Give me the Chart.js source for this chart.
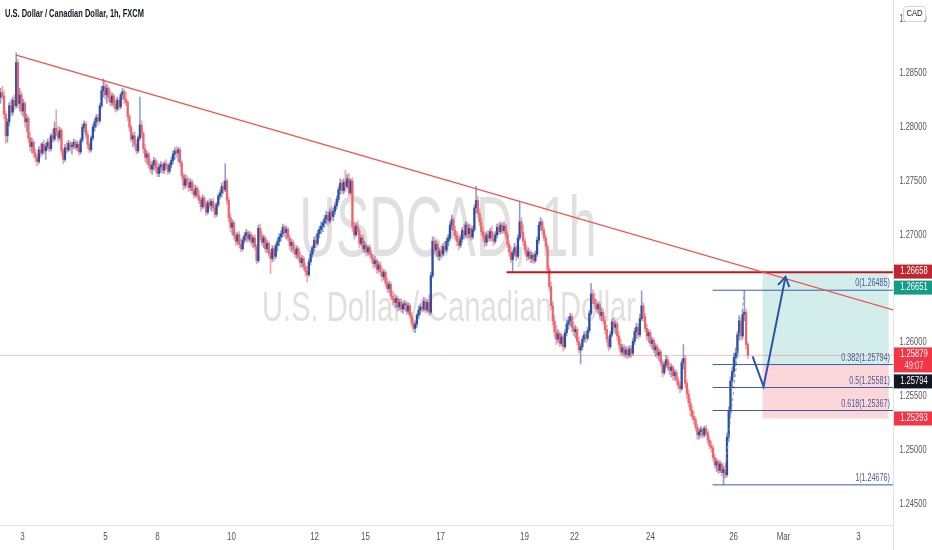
<!DOCTYPE html>
<html>
<head>
<meta charset="utf-8">
<script src="https://cdn.jsdelivr.net/npm/chart.js@4.4.0/dist/chart.umd.min.js"></script>
<style>
  html, body { margin: 0; padding: 0; background: #fff; }
  #wrap { width: 932px; height: 550px; }
</style>
</head>
<body>
<div id="wrap"><canvas id="chart" width="932" height="550"></canvas></div>
<script>
// hourly candles [open, high, low, close]
const candles = [
  [1.2828,1.2836,1.2822,1.2832],[1.2832,1.2838,1.2826,1.2829],[1.2829,1.2834,1.2808,1.2812],[1.2812,1.2815,1.2785,1.2792],[1.2792,1.2808,1.2786,1.2805],
  [1.2805,1.2823,1.2801,1.2820],[1.2820,1.2826,1.2810,1.2814],[1.2814,1.2828,1.2811,1.2825],[1.2825,1.2830,1.2816,1.2820],[1.2820,1.2869,1.2818,1.2860],
  [1.2860,1.2863,1.2818,1.2822],[1.2822,1.2836,1.2815,1.2830],[1.2830,1.2833,1.2812,1.2815],[1.2815,1.2826,1.2810,1.2822],[1.2822,1.2824,1.2800,1.2805],
  [1.2805,1.2812,1.2796,1.2808],[1.2808,1.2810,1.2786,1.2790],[1.2790,1.2795,1.2778,1.2782],[1.2782,1.2790,1.2776,1.2786],[1.2786,1.2788,1.2772,1.2776],
  [1.2776,1.2780,1.2768,1.2772],[1.2772,1.2774,1.2764,1.2768],[1.2768,1.2782,1.2766,1.2779],[1.2779,1.2785,1.2772,1.2776],[1.2776,1.2786,1.2774,1.2784],
  [1.2784,1.2788,1.2775,1.2778],[1.2778,1.2785,1.2770,1.2782],[1.2782,1.2789,1.2779,1.2786],[1.2786,1.2790,1.2777,1.2780],[1.2780,1.2794,1.2778,1.2792],
  [1.2792,1.2798,1.2786,1.2789],[1.2789,1.2805,1.2787,1.2799],[1.2799,1.2816,1.2792,1.2795],[1.2795,1.2801,1.2786,1.2790],[1.2790,1.2800,1.2788,1.2797],
  [1.2797,1.2799,1.2774,1.2778],[1.2778,1.2780,1.2766,1.2770],[1.2770,1.2784,1.2768,1.2781],[1.2781,1.2786,1.2776,1.2779],[1.2779,1.2788,1.2777,1.2785],
  [1.2785,1.2787,1.2778,1.2782],[1.2782,1.2786,1.2775,1.2783],[1.2783,1.2789,1.2780,1.2786],[1.2786,1.2788,1.2779,1.2781],[1.2781,1.2787,1.2778,1.2784],
  [1.2784,1.2786,1.2774,1.2777],[1.2777,1.2790,1.2775,1.2788],[1.2788,1.2803,1.2786,1.2800],[1.2800,1.2806,1.2796,1.2803],[1.2803,1.2805,1.2790,1.2793],
  [1.2793,1.2796,1.2780,1.2784],[1.2784,1.2786,1.2776,1.2779],[1.2779,1.2792,1.2777,1.2790],[1.2790,1.2803,1.2788,1.2800],[1.2800,1.2808,1.2796,1.2805],
  [1.2805,1.2812,1.2800,1.2809],[1.2809,1.2812,1.2802,1.2806],[1.2806,1.2822,1.2804,1.2820],[1.2820,1.2838,1.2818,1.2834],[1.2834,1.2845,1.2828,1.2838],
  [1.2838,1.2843,1.2826,1.2830],[1.2830,1.2840,1.2822,1.2836],[1.2836,1.2838,1.2824,1.2828],[1.2828,1.2834,1.2820,1.2823],[1.2823,1.2832,1.2820,1.2829],
  [1.2829,1.2831,1.2818,1.2821],[1.2821,1.2826,1.2814,1.2817],[1.2817,1.2828,1.2815,1.2825],[1.2825,1.2827,1.2816,1.2819],[1.2819,1.2832,1.2817,1.2830],
  [1.2830,1.2836,1.2826,1.2833],[1.2833,1.2835,1.2822,1.2826],[1.2826,1.2833,1.2820,1.2823],[1.2823,1.2825,1.2806,1.2810],[1.2810,1.2812,1.2796,1.2800],
  [1.2800,1.2802,1.2786,1.2789],[1.2789,1.2795,1.2782,1.2792],[1.2792,1.2796,1.2780,1.2784],[1.2784,1.2788,1.2775,1.2778],[1.2778,1.2792,1.2776,1.2790],
  [1.2790,1.2828,1.2788,1.2802],[1.2802,1.2806,1.2790,1.2794],[1.2794,1.2796,1.2776,1.2780],[1.2780,1.2784,1.2768,1.2772],[1.2772,1.2778,1.2766,1.2775],
  [1.2775,1.2777,1.2762,1.2765],[1.2765,1.2770,1.2758,1.2761],[1.2761,1.2768,1.2756,1.2765],[1.2765,1.2772,1.2760,1.2769],[1.2769,1.2771,1.2758,1.2762],
  [1.2762,1.2768,1.2754,1.2757],[1.2757,1.2766,1.2754,1.2763],[1.2763,1.2768,1.2758,1.2765],[1.2765,1.2767,1.2757,1.2760],[1.2760,1.2768,1.2757,1.2766],
  [1.2766,1.2770,1.2761,1.2764],[1.2764,1.2766,1.2756,1.2759],[1.2759,1.2767,1.2757,1.2765],[1.2765,1.2772,1.2762,1.2769],[1.2769,1.2778,1.2766,1.2775],
  [1.2775,1.2781,1.2770,1.2778],[1.2778,1.2782,1.2772,1.2776],[1.2776,1.2781,1.2768,1.2779],[1.2779,1.2781,1.2764,1.2767],[1.2767,1.2769,1.2752,1.2755],
  [1.2755,1.2757,1.2742,1.2746],[1.2746,1.2756,1.2743,1.2752],[1.2752,1.2755,1.2744,1.2748],[1.2748,1.2753,1.2740,1.2744],[1.2744,1.2752,1.2741,1.2749],
  [1.2749,1.2751,1.2738,1.2741],[1.2741,1.2747,1.2734,1.2737],[1.2737,1.2746,1.2735,1.2743],[1.2743,1.2745,1.2733,1.2736],[1.2736,1.2741,1.2729,1.2732],
  [1.2732,1.2735,1.2722,1.2726],[1.2726,1.2737,1.2724,1.2734],[1.2734,1.2736,1.2725,1.2728],[1.2728,1.2731,1.2718,1.2721],[1.2721,1.2732,1.2719,1.2730],
  [1.2730,1.2734,1.2724,1.2727],[1.2727,1.2733,1.2722,1.2731],[1.2731,1.2734,1.2722,1.2725],[1.2725,1.2729,1.2716,1.2719],[1.2719,1.2730,1.2717,1.2728],
  [1.2728,1.2738,1.2726,1.2736],[1.2736,1.2742,1.2733,1.2739],[1.2739,1.2748,1.2735,1.2745],[1.2745,1.2750,1.2738,1.2742],[1.2742,1.2766,1.2740,1.2750],
  [1.2750,1.2752,1.2728,1.2732],[1.2732,1.2735,1.2712,1.2716],[1.2716,1.2720,1.2703,1.2707],[1.2707,1.2714,1.2700,1.2711],[1.2711,1.2713,1.2696,1.2699],
  [1.2699,1.2703,1.2690,1.2694],[1.2694,1.2702,1.2691,1.2700],[1.2700,1.2703,1.2688,1.2691],[1.2691,1.2696,1.2684,1.2687],[1.2687,1.2698,1.2685,1.2695],
  [1.2695,1.2702,1.2692,1.2699],[1.2699,1.2705,1.2694,1.2702],[1.2702,1.2704,1.2693,1.2696],[1.2696,1.2703,1.2694,1.2700],[1.2700,1.2702,1.2690,1.2693],
  [1.2693,1.2699,1.2688,1.2697],[1.2697,1.2700,1.2686,1.2689],[1.2689,1.2691,1.2673,1.2676],[1.2676,1.2709,1.2674,1.2706],[1.2706,1.2710,1.2695,1.2699],
  [1.2699,1.2703,1.2690,1.2693],[1.2693,1.2700,1.2688,1.2697],[1.2697,1.2699,1.2684,1.2687],[1.2687,1.2695,1.2683,1.2692],[1.2692,1.2694,1.2680,1.2683],
  [1.2683,1.2686,1.2664,1.2678],[1.2678,1.2690,1.2675,1.2687],[1.2687,1.2689,1.2676,1.2680],[1.2680,1.2692,1.2678,1.2690],[1.2690,1.2697,1.2685,1.2694],
  [1.2694,1.2701,1.2690,1.2698],[1.2698,1.2704,1.2694,1.2701],[1.2701,1.2710,1.2698,1.2707],[1.2707,1.2709,1.2698,1.2702],[1.2702,1.2708,1.2696,1.2705],
  [1.2705,1.2707,1.2694,1.2697],[1.2697,1.2700,1.2686,1.2690],[1.2690,1.2696,1.2684,1.2693],[1.2693,1.2695,1.2683,1.2686],[1.2686,1.2691,1.2679,1.2682],
  [1.2682,1.2690,1.2678,1.2687],[1.2687,1.2689,1.2676,1.2679],[1.2679,1.2684,1.2670,1.2674],[1.2674,1.2681,1.2670,1.2678],[1.2678,1.2680,1.2667,1.2670],
  [1.2670,1.2674,1.2662,1.2666],[1.2666,1.2671,1.2656,1.2663],[1.2663,1.2678,1.2661,1.2675],[1.2675,1.2685,1.2672,1.2682],[1.2682,1.2690,1.2679,1.2688],
  [1.2688,1.2698,1.2685,1.2695],[1.2695,1.2700,1.2688,1.2692],[1.2692,1.2704,1.2690,1.2701],[1.2701,1.2708,1.2697,1.2705],[1.2705,1.2712,1.2701,1.2708],
  [1.2708,1.2713,1.2703,1.2711],[1.2711,1.2718,1.2707,1.2715],[1.2715,1.2722,1.2710,1.2718],[1.2718,1.2721,1.2709,1.2713],[1.2713,1.2724,1.2711,1.2721],
  [1.2721,1.2726,1.2714,1.2717],[1.2717,1.2725,1.2713,1.2722],[1.2722,1.2730,1.2719,1.2727],[1.2727,1.2736,1.2724,1.2733],[1.2733,1.2745,1.2730,1.2742],
  [1.2742,1.2752,1.2738,1.2748],[1.2748,1.2751,1.2738,1.2741],[1.2741,1.2752,1.2738,1.2749],[1.2749,1.2760,1.2740,1.2745],[1.2745,1.2756,1.2743,1.2752],
  [1.2752,1.2757,1.2736,1.2739],[1.2739,1.2752,1.2737,1.2750],[1.2750,1.2753,1.2703,1.2708],[1.2708,1.2712,1.2696,1.2700],[1.2700,1.2711,1.2698,1.2708],
  [1.2708,1.2713,1.2700,1.2703],[1.2703,1.2706,1.2688,1.2692],[1.2692,1.2700,1.2690,1.2697],[1.2697,1.2700,1.2684,1.2687],[1.2687,1.2694,1.2683,1.2690],
  [1.2690,1.2692,1.2680,1.2684],[1.2684,1.2690,1.2681,1.2688],[1.2688,1.2691,1.2679,1.2682],[1.2682,1.2685,1.2674,1.2678],[1.2678,1.2681,1.2669,1.2673],
  [1.2673,1.2680,1.2670,1.2676],[1.2676,1.2678,1.2664,1.2668],[1.2668,1.2675,1.2665,1.2672],[1.2672,1.2675,1.2662,1.2666],[1.2666,1.2670,1.2657,1.2661],
  [1.2661,1.2668,1.2658,1.2665],[1.2665,1.2667,1.2652,1.2655],[1.2655,1.2660,1.2647,1.2650],[1.2650,1.2657,1.2646,1.2654],[1.2654,1.2656,1.2640,1.2643],
  [1.2643,1.2648,1.2635,1.2640],[1.2640,1.2646,1.2633,1.2637],[1.2637,1.2644,1.2632,1.2641],[1.2641,1.2643,1.2629,1.2633],[1.2633,1.2640,1.2630,1.2637],
  [1.2637,1.2640,1.2628,1.2631],[1.2631,1.2638,1.2627,1.2635],[1.2635,1.2639,1.2630,1.2636],[1.2636,1.2638,1.2626,1.2629],[1.2629,1.2637,1.2626,1.2634],
  [1.2634,1.2636,1.2622,1.2625],[1.2625,1.2628,1.2615,1.2618],[1.2618,1.2622,1.2610,1.2613],[1.2613,1.2620,1.2609,1.2617],[1.2617,1.2627,1.2614,1.2625],
  [1.2625,1.2634,1.2622,1.2630],[1.2630,1.2636,1.2626,1.2633],[1.2633,1.2640,1.2628,1.2631],[1.2631,1.2642,1.2629,1.2638],[1.2638,1.2641,1.2627,1.2630],
  [1.2630,1.2640,1.2628,1.2637],[1.2637,1.2644,1.2625,1.2628],[1.2628,1.2665,1.2626,1.2662],[1.2662,1.2698,1.2660,1.2694],[1.2694,1.2698,1.2682,1.2686],
  [1.2686,1.2695,1.2680,1.2691],[1.2691,1.2693,1.2677,1.2680],[1.2680,1.2688,1.2676,1.2685],[1.2685,1.2690,1.2678,1.2682],[1.2682,1.2692,1.2680,1.2689],
  [1.2689,1.2694,1.2684,1.2686],[1.2686,1.2697,1.2684,1.2694],[1.2694,1.2700,1.2690,1.2697],[1.2697,1.2712,1.2695,1.2709],[1.2709,1.2718,1.2705,1.2714],
  [1.2714,1.2716,1.2700,1.2704],[1.2704,1.2708,1.2695,1.2699],[1.2699,1.2703,1.2690,1.2694],[1.2694,1.2698,1.2686,1.2690],[1.2690,1.2699,1.2688,1.2696],
  [1.2696,1.2707,1.2693,1.2704],[1.2704,1.2710,1.2696,1.2700],[1.2700,1.2712,1.2698,1.2709],[1.2709,1.2711,1.2697,1.2701],[1.2701,1.2710,1.2697,1.2706],
  [1.2706,1.2709,1.2695,1.2698],[1.2698,1.2708,1.2696,1.2705],[1.2705,1.2728,1.2703,1.2725],[1.2725,1.2745,1.2720,1.2732],[1.2732,1.2736,1.2716,1.2720],
  [1.2720,1.2724,1.2708,1.2712],[1.2712,1.2716,1.2700,1.2703],[1.2703,1.2707,1.2694,1.2698],[1.2698,1.2702,1.2689,1.2693],[1.2693,1.2703,1.2690,1.2700],
  [1.2700,1.2704,1.2694,1.2697],[1.2697,1.2706,1.2694,1.2703],[1.2703,1.2708,1.2694,1.2697],[1.2697,1.2702,1.2690,1.2694],[1.2694,1.2703,1.2692,1.2700],
  [1.2700,1.2710,1.2697,1.2707],[1.2707,1.2711,1.2700,1.2703],[1.2703,1.2712,1.2701,1.2709],[1.2709,1.2711,1.2701,1.2704],[1.2704,1.2712,1.2702,1.2708],
  [1.2708,1.2710,1.2697,1.2700],[1.2700,1.2703,1.2688,1.2691],[1.2691,1.2694,1.2680,1.2684],[1.2684,1.2689,1.2674,1.2677],[1.2677,1.2686,1.2665,1.2683],
  [1.2683,1.2692,1.2680,1.2688],[1.2688,1.2690,1.2676,1.2680],[1.2680,1.2700,1.2678,1.2697],[1.2697,1.2731,1.2695,1.2712],[1.2712,1.2716,1.2698,1.2702],
  [1.2702,1.2709,1.2690,1.2694],[1.2694,1.2697,1.2682,1.2686],[1.2686,1.2690,1.2676,1.2680],[1.2680,1.2688,1.2677,1.2684],[1.2684,1.2686,1.2674,1.2678],
  [1.2678,1.2684,1.2674,1.2681],[1.2681,1.2683,1.2673,1.2676],[1.2676,1.2685,1.2674,1.2682],[1.2682,1.2698,1.2680,1.2695],[1.2695,1.2712,1.2692,1.2709],
  [1.2709,1.2716,1.2704,1.2712],[1.2712,1.2714,1.2700,1.2704],[1.2704,1.2707,1.2694,1.2697],[1.2697,1.2700,1.2686,1.2689],[1.2689,1.2692,1.2664,1.2668],
  [1.2668,1.2671,1.2648,1.2652],[1.2652,1.2656,1.2630,1.2634],[1.2634,1.2638,1.2616,1.2620],[1.2620,1.2625,1.2605,1.2610],[1.2610,1.2616,1.2598,1.2603],
  [1.2603,1.2612,1.2600,1.2608],[1.2608,1.2610,1.2596,1.2599],[1.2599,1.2608,1.2597,1.2605],[1.2605,1.2607,1.2592,1.2596],[1.2596,1.2612,1.2594,1.2609],
  [1.2609,1.2620,1.2606,1.2617],[1.2617,1.2624,1.2612,1.2620],[1.2620,1.2627,1.2615,1.2624],[1.2624,1.2626,1.2610,1.2614],[1.2614,1.2619,1.2606,1.2610],
  [1.2610,1.2616,1.2604,1.2612],[1.2612,1.2614,1.2598,1.2601],[1.2601,1.2605,1.2590,1.2593],[1.2593,1.2599,1.2580,1.2596],[1.2596,1.2606,1.2593,1.2603],
  [1.2603,1.2610,1.2600,1.2607],[1.2607,1.2610,1.2600,1.2604],[1.2604,1.2614,1.2602,1.2611],[1.2611,1.2630,1.2609,1.2627],[1.2627,1.2655,1.2625,1.2645],
  [1.2645,1.2649,1.2636,1.2640],[1.2640,1.2646,1.2632,1.2636],[1.2636,1.2640,1.2628,1.2631],[1.2631,1.2638,1.2627,1.2635],[1.2635,1.2637,1.2622,1.2625],
  [1.2625,1.2632,1.2620,1.2628],[1.2628,1.2631,1.2617,1.2620],[1.2620,1.2624,1.2608,1.2612],[1.2612,1.2616,1.2600,1.2603],[1.2603,1.2606,1.2592,1.2596],
  [1.2596,1.2610,1.2594,1.2607],[1.2607,1.2622,1.2605,1.2619],[1.2619,1.2623,1.2610,1.2614],[1.2614,1.2620,1.2608,1.2617],[1.2617,1.2619,1.2602,1.2606],
  [1.2606,1.2610,1.2594,1.2598],[1.2598,1.2603,1.2588,1.2591],[1.2591,1.2598,1.2588,1.2595],[1.2595,1.2598,1.2586,1.2589],[1.2589,1.2596,1.2586,1.2593],
  [1.2593,1.2596,1.2585,1.2588],[1.2588,1.2597,1.2586,1.2594],[1.2594,1.2597,1.2586,1.2590],[1.2590,1.2604,1.2588,1.2601],[1.2601,1.2613,1.2598,1.2610],
  [1.2610,1.2618,1.2604,1.2614],[1.2614,1.2617,1.2603,1.2607],[1.2607,1.2626,1.2605,1.2622],[1.2622,1.2648,1.2620,1.2634],[1.2634,1.2637,1.2620,1.2624],
  [1.2624,1.2627,1.2610,1.2613],[1.2613,1.2617,1.2602,1.2606],[1.2606,1.2612,1.2600,1.2609],[1.2609,1.2611,1.2596,1.2599],[1.2599,1.2605,1.2594,1.2602],
  [1.2602,1.2604,1.2590,1.2593],[1.2593,1.2599,1.2587,1.2596],[1.2596,1.2598,1.2585,1.2588],[1.2588,1.2594,1.2583,1.2591],[1.2591,1.2593,1.2578,1.2581],
  [1.2581,1.2584,1.2568,1.2572],[1.2572,1.2582,1.2570,1.2579],[1.2579,1.2588,1.2576,1.2584],[1.2584,1.2587,1.2574,1.2577],[1.2577,1.2582,1.2570,1.2574],
  [1.2574,1.2580,1.2568,1.2577],[1.2577,1.2579,1.2565,1.2569],[1.2569,1.2575,1.2565,1.2572],[1.2572,1.2574,1.2561,1.2565],[1.2565,1.2568,1.2557,1.2560],
  [1.2560,1.2563,1.2553,1.2557],[1.2557,1.2584,1.2555,1.2581],[1.2581,1.2598,1.2575,1.2585],[1.2585,1.2588,1.2558,1.2562],[1.2562,1.2565,1.2548,1.2552],
  [1.2552,1.2556,1.2540,1.2544],[1.2544,1.2548,1.2532,1.2537],[1.2537,1.2541,1.2528,1.2531],[1.2531,1.2536,1.2524,1.2528],[1.2528,1.2531,1.2518,1.2521],
  [1.2521,1.2524,1.2510,1.2514],[1.2514,1.2520,1.2510,1.2517],[1.2517,1.2522,1.2512,1.2519],[1.2519,1.2521,1.2511,1.2514],[1.2514,1.2522,1.2512,1.2520],
  [1.2520,1.2523,1.2513,1.2516],[1.2516,1.2518,1.2506,1.2509],[1.2509,1.2512,1.2501,1.2504],[1.2504,1.2508,1.2498,1.2502],[1.2502,1.2504,1.2490,1.2493],
  [1.2493,1.2496,1.2483,1.2486],[1.2486,1.2492,1.2480,1.2489],[1.2489,1.2491,1.2478,1.2481],[1.2481,1.2490,1.2479,1.2487],[1.2487,1.2489,1.2476,1.2479],
  [1.2479,1.2485,1.2468,1.2482],[1.2482,1.2488,1.2474,1.2477],[1.2477,1.2516,1.2475,1.2512],[1.2512,1.2540,1.2508,1.2536],[1.2536,1.2568,1.2532,1.2564],
  [1.2564,1.2577,1.2558,1.2573],[1.2573,1.2590,1.2568,1.2586],[1.2586,1.2595,1.2578,1.2590],[1.2590,1.2610,1.2586,1.2607],[1.2607,1.2625,1.2603,1.2620],
  [1.2620,1.2623,1.2602,1.2606],[1.2606,1.2630,1.2603,1.2626],[1.2626,1.2648,1.2620,1.2628],[1.2628,1.2631,1.2594,1.2598],[1.2598,1.2600,1.2585,1.2588]
];

// time axis: bar index of each day label
const dayTicks = [12.6, 60.3, 90.1, 132.6, 180.3, 209.5, 252.6, 300.8, 329.5, 373.1, 420.8, 449.5, 492.5];
const dayLabels = ["3", "5", "8", "10", "12", "15", "17", "19", "22", "24", "26", "Mar", "3"];
const priceTicks = [1.245, 1.25, 1.255, 1.26, 1.265, 1.27, 1.275, 1.28, 1.285, 1.29];

// drawings
const trendX = [9, 512.6];
const trendY = [1.2867, 1.2630];
const levelX = [290.5, 512.6];
const levelPrice = 1.26651;
const levelTag = 1.26658;
const fibX = [408.7, 512.6];
const fibRatios = ["0", "0.382", "0.5", "0.618", "1"];
const fibPrices = [1.26485, 1.25794, 1.25581, 1.25367, 1.24676];
const arrowX = [431.7, 438.0, 450.6];
const arrowY = [1.2587, 1.2559, 1.2661];
const positionX = [437.4, 509.8];
const targetPrice = 1.26651;
const entryPrice = 1.25794;
const stopPrice = 1.25293;
const lastPrice = 1.25879;
const countdown = "49:07";

const UP = "#2651a6", DOWN = "#ef646c";
const UP_WICK = "rgba(38,81,166,0.55)", DOWN_WICK = "rgba(239,100,108,0.6)";
const FIB = "#3a5ca8";

const isUp = candles.map(c => c[3] >= c[0]);

function lineSet(xs, ys, color, width, order, dash) {
  return {
    type: "line",
    data: xs.map((x, i) => ({ x: x, y: ys[i] })),
    borderColor: color,
    borderWidth: width,
    borderDash: dash || [],
    pointRadius: 0,
    tension: 0,
    fill: false,
    order: order
  };
}

function condensed(ctx, s, x, y, font, color, align, sx) {
  ctx.save();
  ctx.font = font;
  ctx.fillStyle = color;
  ctx.textAlign = align;
  ctx.textBaseline = "middle";
  ctx.translate(x, y);
  ctx.scale(sx, 1);
  ctx.fillText(s, 0, 0);
  ctx.restore();
}

const overlay = {
  id: "overlay",
  beforeDatasetsDraw(chart) {
    const ctx = chart.ctx;
    const xs = chart.scales.x, ys = chart.scales.y;
    // watermark
    ctx.save();
    ctx.fillStyle = "#e0e0e0";
    ctx.textAlign = "center";
    ctx.textBaseline = "alphabetic";
    ctx.font = "86px 'Liberation Sans'";
    ctx.fillText("USDCAD, 1h", 448, 256, 297);
    ctx.font = "42px 'Liberation Sans'";
    ctx.fillText("U.S. Dollar / Canadian Dollar", 449, 321, 374);
    ctx.restore();
    // long position boxes
    const x0 = xs.getPixelForValue(positionX[0]), x1 = xs.getPixelForValue(positionX[1]);
    const yt = ys.getPixelForValue(targetPrice), ye = ys.getPixelForValue(entryPrice), yst = ys.getPixelForValue(stopPrice);
    ctx.save();
    ctx.fillStyle = "rgba(34,171,148,0.2)";
    ctx.fillRect(x0, yt, x1 - x0, ye - yt);
    ctx.fillStyle = "rgba(242,54,69,0.2)";
    ctx.fillRect(x0, ye, x1 - x0, yst - ye);
    ctx.restore();
  },
  afterDatasetsDraw(chart) {
    const ctx = chart.ctx;
    const xs = chart.scales.x, ys = chart.scales.y;
    // arrow head
    const n = arrowX.length;
    const tx = xs.getPixelForValue(arrowX[n - 1]), ty = ys.getPixelForValue(arrowY[n - 1]);
    const px = xs.getPixelForValue(arrowX[n - 2]), py = ys.getPixelForValue(arrowY[n - 2]);
    const ang = Math.atan2(ty - py, tx - px);
    ctx.save();
    ctx.strokeStyle = "#2a55a8";
    ctx.lineWidth = 2;
    ctx.beginPath();
    ctx.moveTo(tx - 11 * Math.cos(ang - 0.55), ty - 11 * Math.sin(ang - 0.55));
    ctx.lineTo(tx, ty);
    ctx.lineTo(tx - 11 * Math.cos(ang + 0.55), ty - 11 * Math.sin(ang + 0.55));
    ctx.stroke();
    ctx.restore();
    // fib labels
    fibPrices.forEach((p, i) => {
      const y = ys.getPixelForValue(p);
      condensed(ctx, fibRatios[i] + "(" + p.toFixed(5) + ")", 890, y - 6.5, "10px 'Liberation Sans'", "#4a5a96", "right", 0.72);
    });
  },
  afterDraw(chart) {
    const ctx = chart.ctx;
    const area = chart.chartArea;
    const xs = chart.scales.x, ys = chart.scales.y;
    ctx.save();
    ctx.strokeStyle = "#e0e3eb";
    ctx.lineWidth = 1;
    ctx.beginPath();
    ctx.moveTo(area.right + 0.5, 0);
    ctx.lineTo(area.right + 0.5, 550);
    ctx.moveTo(0, area.bottom + 0.5);
    ctx.lineTo(area.right, area.bottom + 0.5);
    ctx.stroke();
    ctx.restore();
    // price axis
    priceTicks.forEach(p => {
      condensed(ctx, p.toFixed(5), 913, ys.getPixelForValue(p), "10px 'Liberation Sans'", "#555", "center", 0.75);
    });
    // time axis
    dayTicks.forEach((t, i) => {
      condensed(ctx, dayLabels[i], xs.getPixelForValue(t), area.bottom + 12, "10px 'Liberation Sans'", "#555", "center", 0.8);
    });
    // price tags
    const tags = [
      { price: levelTag, bg: "#c0262f" },
      { price: targetPrice, bg: "#139c86" },
      { price: lastPrice, bg: "#f23645", sub: countdown },
      { price: entryPrice, bg: "#131722" },
      { price: stopPrice, bg: "#f23645" }
    ];
    let prevBottom = -1e9;
    tags.forEach(t => {
      const y = ys.getPixelForValue(t.price);
      const h = t.sub ? 25 : 14;
      const top = Math.max(y - (t.sub ? 8 : 7), prevBottom + 2);
      ctx.fillStyle = t.bg;
      ctx.fillRect(area.right + 1, top, 932 - area.right - 1, h);
      condensed(ctx, t.price.toFixed(5), 914, top + 7, "10px 'Liberation Sans'", "#fff", "center", 0.76);
      if (t.sub) condensed(ctx, t.sub, 914, top + 18.5, "10px 'Liberation Sans'", "rgba(255,255,255,0.85)", "center", 0.76);
      prevBottom = top + h;
    });
    // title
    ctx.save();
    ctx.fillStyle = "#131722";
    ctx.font = "bold 10px 'Liberation Sans'";
    ctx.textBaseline = "alphabetic";
    ctx.fillText("U.S. Dollar / Canadian Dollar, 1h, FXCM", 5, 17, 139);
    ctx.restore();
    // currency badge
    ctx.save();
    ctx.fillStyle = "#fff";
    ctx.strokeStyle = "#d1d4dc";
    ctx.beginPath();
    ctx.roundRect(903.5, 6.5, 22, 15, 3);
    ctx.fill();
    ctx.stroke();
    ctx.restore();
    condensed(ctx, "CAD", 914.5, 14, "9px 'Liberation Sans'", "#131722", "center", 0.85);
  }
};

const datasets = [
  lineSet([-1, 513], [lastPrice, lastPrice], "rgba(242,54,69,0.3)", 1, 10),
  {
    type: "bar",
    data: candles.map((c, i) => ({ x: i, y: [c[2], c[1]] })),
    backgroundColor: isUp.map(u => u ? UP_WICK : DOWN_WICK),
    barThickness: 0.9,
    grouped: false,
    order: 6
  },
  {
    type: "bar",
    data: candles.map((c, i) => ({ x: i, y: [c[0], c[3]] })),
    backgroundColor: isUp.map(u => u ? UP : DOWN),
    barThickness: 1.6,
    minBarLength: 1,
    grouped: false,
    order: 5
  },
  lineSet([415, 427], [candles[415][2], candles[427][1]], "#9598a1", 1, 3, [3, 3]),
  lineSet(trendX, trendY, "#f0504c", 1.2, 2),
  lineSet(levelX, [levelPrice, levelPrice], "#c2161c", 2, 2)
].concat(
  fibPrices.map(p => lineSet(fibX, [p, p], FIB, 1, 2)),
  [lineSet(arrowX, arrowY, "#2a55a8", 2, 1)]
);

new Chart(document.getElementById("chart").getContext("2d"), {
  type: "bar",
  data: { datasets: datasets },
  options: {
    responsive: false,
    animation: false,
    devicePixelRatio: 1,
    layout: { padding: 0 },
    plugins: { legend: { display: false }, tooltip: { enabled: false } },
    scales: {
      x: {
        type: "linear", min: -0.3, max: 512.3, offset: false,
        grid: { display: false }, border: { display: false }, ticks: { display: false },
        afterFit: s => { s.height = 25; }
      },
      y: {
        position: "right", min: 1.24303, max: 1.29182,
        grid: { display: false }, border: { display: false }, ticks: { display: false },
        afterFit: s => { s.width = 39; }
      }
    }
  },
  plugins: [overlay]
});
</script>
</body>
</html>
